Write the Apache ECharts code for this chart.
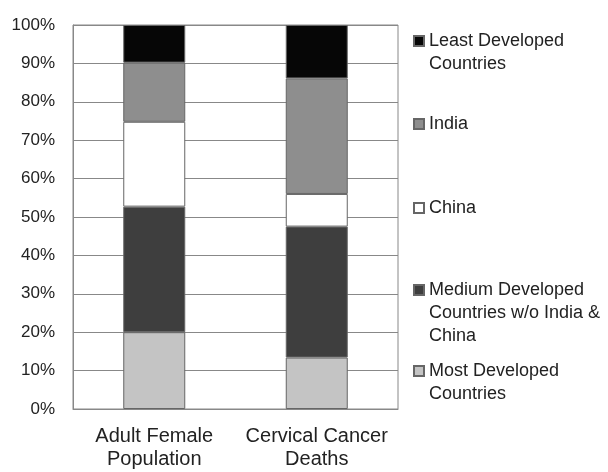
<!DOCTYPE html>
<html>
<head>
<meta charset="utf-8">
<script src="https://cdn.jsdelivr.net/npm/echarts@6/dist/echarts.min.js"></script>
<style>
html,body{margin:0;padding:0;background:#fff;}
#chart{width:608px;height:472px;}
</style>
</head>
<body>
<div id="chart"></div>
<script>
var categories = ['Adult Female\nPopulation', 'Cervical Cancer\nDeaths'];
var seriesNames = ['Most Developed Countries', 'Medium Developed Countries w/o India & China', 'China', 'India', 'Least Developed Countries'];
var legendLabels = ['Most Developed\nCountries', 'Medium Developed\nCountries w/o India &\nChina', 'China', 'India', 'Least Developed\nCountries'];
var mostDeveloped = [20.0, 13.4];
var mediumDeveloped = [32.7, 34.1];
var china = [22.1, 8.5];
var india = [15.4, 30.1];
var leastDeveloped = [9.8, 13.9];
var yTicks = [0, 10, 20, 30, 40, 50, 60, 70, 80, 90, 100];

var values = [mostDeveloped, mediumDeveloped, china, india, leastDeveloped];
var colors = ['#c4c4c4', '#3e3e3e', '#ffffff', '#8e8e8e', '#060606'];
var iconCenters = [371, 290, 208, 124, 41];
var LH = 23;

var chart = echarts.init(document.getElementById('chart'), null, {renderer: 'canvas'});
var font = '"Liberation Sans", Arial, sans-serif';

var legends = seriesNames.map(function (name, i) {
  var lines = legendLabels[i].split('\n');
  var n = lines.length;
  var m = 2 * n - 1;
  var text = new Array(n).join('\n') + legendLabels[i];
  return {
    orient: 'vertical',
    left: 413,
    top: iconCenters[i] - m * LH / 2,
    padding: 0,
    itemWidth: 10,
    itemHeight: 10,
    icon: 'rect',
    selectedMode: false,
    data: [name],
    formatter: function () { return text; },
    textStyle: {
      fontFamily: font,
      fontSize: 18,
      lineHeight: LH,
      color: '#222'
    }
  };
});

var series = seriesNames.map(function (name, i) {
  return {
    name: name,
    type: 'bar',
    stack: 'total',
    barWidth: 62,
    data: values[i],
    itemStyle: {color: colors[i], borderColor: '#666', borderWidth: 1},
    emphasis: {disabled: true}
  };
});

chart.setOption({
  animation: false,
  backgroundColor: '#fff',
  legend: legends,
  grid: {left: 73, top: 25, right: 210, bottom: 63, show: true, borderColor: '#888', borderWidth: 1},
  xAxis: {
    type: 'category',
    data: categories,
    axisTick: {show: false},
    axisLine: {lineStyle: {color: '#888'}},
    axisLabel: {fontFamily: font, fontSize: 20, lineHeight: LH, color: '#222', margin: 16, interval: 0}
  },
  yAxis: {
    type: 'value',
    min: yTicks[0],
    max: yTicks[yTicks.length - 1],
    interval: 10,
    axisLine: {show: true, lineStyle: {color: '#888'}},
    axisTick: {show: false},
    splitLine: {lineStyle: {color: '#888'}},
    axisLabel: {fontFamily: font, fontSize: 17, color: '#222', margin: 18, formatter: '{value}%'}
  },
  series: series
});
</script>
</body>
</html>
